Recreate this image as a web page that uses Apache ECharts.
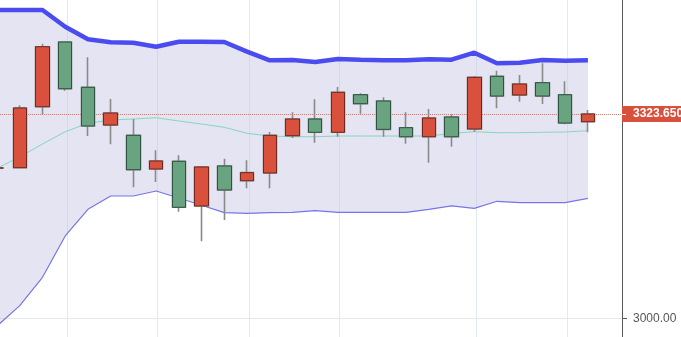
<!DOCTYPE html>
<html>
<head>
<meta charset="utf-8">
<title>K线</title>
<script src="https://cdn.jsdelivr.net/npm/echarts@6/dist/echarts.min.js"></script>
<style>
  html, body { margin: 0; padding: 0; background: #fff; }
  #myChart { width: 681px; height: 337px; }
</style>
</head>
<body>
<div id="myChart"></div>
<script>
// 每根K线: [开盘, 收盘, 最低, 最高]
const candles = [
  [3238.2, 3238.2, 3236.0, 3240.0],
  [3238.7, 3333.2, 3238.6, 3337.4],
  [3335.2, 3430.2, 3323.2, 3434.9],
  [3437.6, 3363.7, 3360.1, 3438.5],
  [3365.9, 3304.7, 3288.8, 3413.4],
  [3306.2, 3325.2, 3275.7, 3347.4],
  [3289.9, 3235.5, 3207.7, 3315.7],
  [3236.6, 3249.3, 3216.0, 3266.2],
  [3248.8, 3176.0, 3169.0, 3258.3],
  [3178.1, 3239.8, 3122.2, 3241.4],
  [3241.4, 3203.4, 3155.9, 3252.9],
  [3218.1, 3230.8, 3206.1, 3250.4],
  [3230.3, 3289.9, 3206.1, 3295.2],
  [3289.3, 3315.7, 3285.7, 3326.3],
  [3315.7, 3294.7, 3278.2, 3346.9],
  [3294.7, 3358.0, 3287.7, 3366.4],
  [3354.2, 3340.0, 3324.1, 3356.4],
  [3344.2, 3299.4, 3287.7, 3350.1],
  [3302.0, 3287.7, 3276.7, 3326.3],
  [3287.7, 3317.3, 3246.6, 3331.6],
  [3318.9, 3287.7, 3271.9, 3323.2],
  [3299.9, 3381.7, 3295.6, 3383.8],
  [3383.3, 3352.1, 3332.7, 3392.2],
  [3353.7, 3371.1, 3343.1, 3385.4],
  [3373.2, 3352.1, 3339.5, 3403.9],
  [3354.2, 3309.4, 3307.4, 3375.4],
  [3311.5, 3323.65, 3294.7, 3330.0]
];
const upperBand = [3488.2, 3488.2, 3488.2, 3461.8, 3441.9, 3437.1, 3436.5, 3430.2, 3438.1, 3438.1, 3437.6, 3422.3, 3408.6, 3409.1,
  3406.0, 3410.7, 3409.6, 3408.6, 3408.6, 3410.2, 3409.6, 3420.7, 3403.9, 3404.8, 3409.1, 3408.0, 3408.6];
const midBand = [3237.9, 3255.6, 3276.2, 3295.6, 3308.9, 3314.2, 3315.7, 3317.8, 3312.6, 3307.8, 3302.6, 3293.1, 3288.8, 3287.7,
  3287.7, 3288.8, 3288.8, 3288.8, 3288.8, 3288.8, 3292.8, 3295.6, 3294.1, 3294.1, 3294.7, 3295.2, 3297.2];
const lowerBand = [2988.1, 3020.3, 3065.2, 3130.6, 3172.8, 3193.9, 3193.9, 3201.8, 3190.7, 3179.2, 3167.5, 3166.5, 3167.5, 3168.1,
  3170.6, 3168.1, 3168.1, 3168.1, 3168.1, 3172.8, 3178.1, 3174.4, 3185.5, 3183.3, 3183.3, 3183.3, 3190.2];
const gridX = [3.1, 7.05, 11.1, 15.05, 21.1, 25.07];
const yTicks = [3000];
const lastPrice = 3323.65;

let myChart = echarts.init(document.getElementById("myChart"));

const withIdx = (arr) => arr.map((v, i) => [i, v]);
const candleData = candles.map((c, i) => [i, c[0], c[1], c[2], c[3]]);
// 只画实体（不含影线），用来加深边框
const bodyData = candles.map((c, i) => [i, c[0], c[1], Math.min(c[0], c[1]), Math.max(c[0], c[1])]);

// 上下轨之间的填充
function renderBand(params, api) {
  if (params.dataIndex !== 0) return null;
  const top = upperBand.map((v, i) => api.coord([i, v]));
  const bottom = lowerBand.map((v, i) => api.coord([i, v])).reverse();
  return {
    type: "polygon",
    shape: { points: top.concat(bottom) },
    style: { fill: "rgba(196,196,226,0.45)" },
  };
}

myChart.setOption({
  animation: false,
  backgroundColor: "#fff",
  grid: { left: 0, right: 59, top: 0, bottom: 0 },
  xAxis: {
    type: "value",
    min: 0.13,
    max: 27.5,
    axisLine: { show: false },
    axisLabel: { show: false },
    axisTick: { show: false, customValues: gridX },
    splitLine: { show: true, lineStyle: { color: "#e3e9f1", width: 1 } },
  },
  yAxis: [
    {
      type: "value",
      position: "right",
      min: 2970.7,
      max: 3504.1,
      axisLine: { show: true, lineStyle: { color: "#5a5a5a", width: 1 } },
      axisTick: { show: true, length: 5, customValues: yTicks, lineStyle: { color: "#5a5a5a" } },
      axisLabel: {
        customValues: yTicks,
        margin: 11,
        color: "#555",
        fontSize: 12,
        fontFamily: "Liberation Sans, Arial, sans-serif",
        formatter: (v) => v.toFixed(2),
      },
      splitLine: { show: true, lineStyle: { color: "#e3e9f1" } },
    },
    {
      type: "value",
      position: "right",
      min: 2970.7,
      max: 3504.1,
      z: 10,
      axisLine: { show: false },
      axisLabel: { show: false },
      splitLine: { show: false },
      axisTick: { show: true, length: 4, customValues: [lastPrice], lineStyle: { color: "#fff", width: 1 } },
    },
  ],
  series: [
    {
      type: "custom",
      data: [[0, lowerBand[0]]],
      renderItem: renderBand,
      clip: true,
      silent: true,
      z: 1,
    },
    {
      name: "上轨",
      type: "line",
      data: withIdx(upperBand),
      symbol: "none",
      lineStyle: { color: "#4b4cf0", width: 4.5 },
      z: 3,
    },
    {
      name: "中轨",
      type: "line",
      data: withIdx(midBand),
      symbol: "none",
      lineStyle: { color: "#86d6c2", width: 1 },
      z: 3,
    },
    {
      name: "下轨",
      type: "line",
      data: withIdx(lowerBand),
      symbol: "none",
      lineStyle: { color: "#7676e6", width: 1.2 },
      z: 3,
    },
    {
      name: "K线",
      type: "candlestick",
      data: candleData,
      barWidth: 14,
      z: 4,
      itemStyle: {
        color: "#d9503c",
        color0: "#68a47f",
        borderColor: "#8a8a8a",
        borderColor0: "#8a8a8a",
        borderWidth: 1.6,
      },
      markLine: {
        symbol: "none",
        silent: true,
        z: 5,
        lineStyle: { color: "#e07a6c", type: "dotted", width: 1 },
        label: {
          position: "end",
          distance: 0,
          formatter: () => lastPrice.toFixed(3),
          color: "#fff",
          fontWeight: "bold",
          fontSize: 12,
          fontFamily: "Liberation Sans, Arial, sans-serif",
          backgroundColor: "#d9503c",
          padding: [2, 4, 1, 11],
          lineHeight: 13,
        },
        data: [{ yAxis: lastPrice }],
      },
    },
    {
      type: "candlestick",
      data: bodyData,
      barWidth: 14,
      z: 5,
      itemStyle: {
        color: "#d9503c",
        color0: "#68a47f",
        borderColor: "#6e2a20",
        borderColor0: "#2f5240",
        borderWidth: 1,
      },
    },
  ],
});
</script>
</body>
</html>
